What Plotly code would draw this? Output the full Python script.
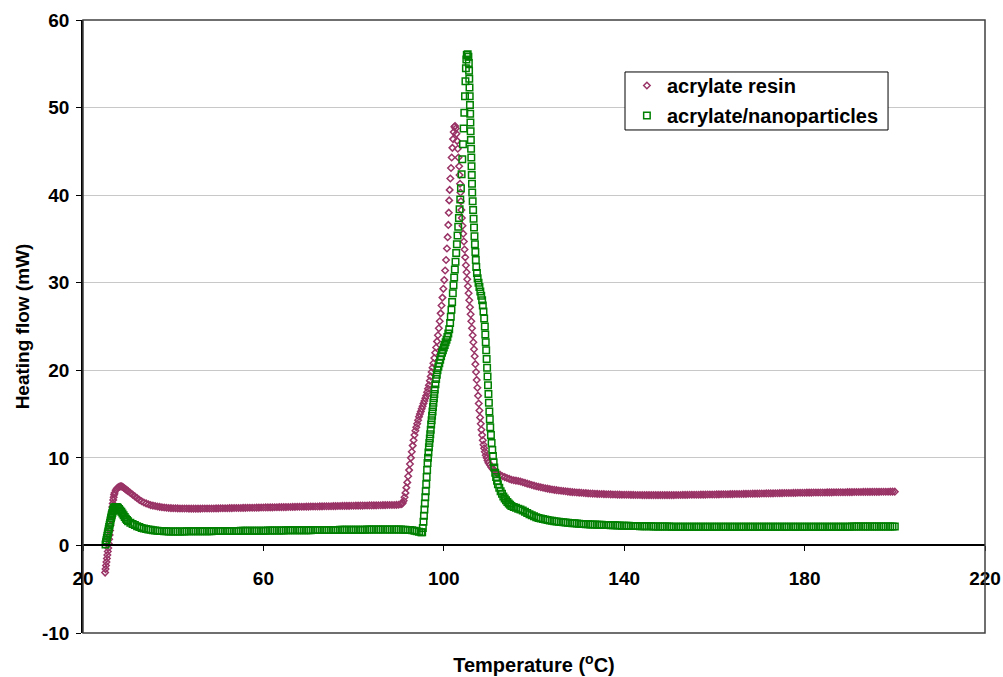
import plotly.graph_objects as go

# ---------------- data ----------------
# acrylate resin: onset (explicit temperature / heat-flow pairs)
resin_onset = [(24.9, -3.1), (25.0, -2.7), (25.1, -2.3), (25.2, -1.9), (25.3, -1.5), (25.4, -1.1),
               (25.5, -0.7), (25.6, -0.3), (25.7, 0.2), (25.8, 0.7), (25.9, 1.2), (26.0, 1.7),
               (26.1, 2.3), (26.2, 2.9), (26.3, 3.4), (26.4, 3.9), (26.5, 4.4), (26.6, 4.8),
               (26.7, 5.2), (26.8, 5.5), (26.9, 5.8), (27.0, 6.0), (27.25, 6.3), (27.5, 6.5),
               (27.75, 6.6), (28.0, 6.7), (28.25, 6.75), (28.5, 6.75), (28.75, 6.7), (29.0, 6.6),
               (29.25, 6.5), (29.5, 6.4), (29.75, 6.3), (30.0, 6.2)]
# acrylate resin: baseline sampled every 0.5 C from 30.5 C
resin_base_start = 30.5
resin_base = [6.0, 5.8, 5.6, 5.4, 5.2, 5.05, 4.9, 4.8, 4.7, 4.6,
              4.55, 4.5, 4.45, 4.4, 4.36, 4.33, 4.3, 4.28, 4.26, 4.25,
              4.24, 4.23, 4.22, 4.22, 4.21, 4.21, 4.2, 4.2, 4.2, 4.2,
              4.2, 4.2, 4.21, 4.21, 4.21, 4.22, 4.22, 4.22, 4.23, 4.23,
              4.24, 4.24, 4.25, 4.25, 4.26, 4.26, 4.27, 4.27, 4.28, 4.28,
              4.29, 4.29, 4.3, 4.3, 4.31, 4.31, 4.32, 4.32, 4.33, 4.33,
              4.34, 4.34, 4.35, 4.35, 4.36, 4.36, 4.37, 4.37, 4.38, 4.38,
              4.39, 4.39, 4.4, 4.4, 4.41, 4.41, 4.42, 4.42, 4.43, 4.43,
              4.44, 4.44, 4.45, 4.45, 4.46, 4.46, 4.47, 4.47, 4.48, 4.48,
              4.49, 4.49, 4.5, 4.5, 4.51, 4.51, 4.52, 4.52, 4.53, 4.53,
              4.54, 4.54, 4.55, 4.55, 4.56, 4.56, 4.57, 4.57, 4.58, 4.58,
              4.59, 4.59, 4.6, 4.6, 4.61, 4.61, 4.62, 4.62, 4.63, 4.64]
# acrylate resin: exotherm (explicit pairs)
resin_peak = [(90.5, 4.7), (90.7, 4.75), (90.9, 4.85), (91.1, 5.1), (91.3, 5.5), (91.5, 6.0),
              (91.7, 6.6), (91.9, 7.2), (92.1, 7.9), (92.3, 8.6), (92.5, 9.3), (92.7, 10.0),
              (92.9, 10.7), (93.1, 11.4), (93.3, 12.0), (93.5, 12.6), (93.7, 13.1), (93.9, 13.5),
              (94.1, 13.9), (94.3, 14.3), (94.5, 14.7), (94.7, 15.0), (94.9, 15.3), (95.1, 15.6),
              (95.3, 15.9), (95.5, 16.2), (95.7, 16.5), (95.9, 16.8), (96.1, 17.1), (96.3, 17.5),
              (96.5, 17.9), (96.7, 18.3), (96.9, 18.8), (97.1, 19.3), (97.3, 19.8), (97.5, 20.3),
              (97.7, 20.8), (97.9, 21.4), (98.1, 22.0), (98.3, 22.6), (98.5, 23.3), (98.7, 24.0),
              (98.9, 24.8), (99.1, 25.6), (99.3, 26.5), (99.5, 27.4), (99.7, 28.3), (99.9, 29.3),
              (100.1, 30.3), (100.3, 31.4), (100.5, 32.6), (100.7, 33.9), (100.85, 35.2),
              (101.0, 36.6), (101.1, 38.0), (101.2, 39.4), (101.3, 40.6), (101.45, 41.9),
              (101.6, 43.1), (101.75, 44.3), (101.9, 45.4), (102.05, 46.4), (102.2, 47.2),
              (102.35, 47.8), (102.5, 47.9), (102.65, 47.6), (102.8, 47.0), (102.95, 46.2),
              (103.1, 45.3), (103.25, 44.3), (103.4, 43.3), (103.5, 42.3), (103.6, 41.3),
              (103.7, 40.3), (103.8, 39.3), (103.9, 38.3), (104.0, 37.4), (104.15, 36.5),
              (104.3, 35.6), (104.45, 34.7), (104.6, 33.8), (104.75, 32.9), (104.9, 32.0),
              (105.05, 31.2), (105.2, 30.4), (105.35, 29.6), (105.5, 28.8), (105.65, 28.0),
              (105.8, 27.2), (105.95, 26.4), (106.1, 25.6), (106.25, 24.8), (106.4, 24.0),
              (106.55, 23.2), (106.7, 22.4), (106.85, 21.6), (107.0, 20.7), (107.15, 19.8),
              (107.3, 18.9), (107.45, 18.0), (107.6, 17.1), (107.75, 16.2), (107.9, 15.4),
              (108.05, 14.6), (108.2, 13.9), (108.35, 13.2), (108.5, 12.6), (108.65, 12.0),
              (108.8, 11.5), (108.95, 11.1), (109.1, 10.7), (109.3, 10.3), (109.5, 10.0),
              (109.7, 9.7), (109.9, 9.45), (110.2, 9.2), (110.5, 8.95), (110.8, 8.75),
              (111.1, 8.6), (111.4, 8.45), (111.7, 8.3), (112.0, 8.2), (112.5, 8.05),
              (113.0, 7.9), (113.5, 7.8), (114.0, 7.7), (114.5, 7.6), (115.0, 7.5)]
# acrylate resin: tail sampled every 0.5 C from 115.5 C
resin_tail_start = 115.5
resin_tail = [7.45, 7.4, 7.35, 7.3, 7.22, 7.14, 7.06, 6.98, 6.9, 6.83,
              6.76, 6.7, 6.64, 6.58, 6.53, 6.48, 6.43, 6.39, 6.35, 6.31,
              6.27, 6.24, 6.21, 6.18, 6.15, 6.12, 6.09, 6.07, 6.05, 6.03,
              6.01, 5.99, 5.97, 5.95, 5.93, 5.92, 5.9, 5.89, 5.88, 5.87,
              5.86, 5.85, 5.84, 5.83, 5.82, 5.81, 5.8, 5.8, 5.79, 5.79,
              5.78, 5.78, 5.77, 5.77, 5.76, 5.76, 5.76, 5.75, 5.75, 5.75,
              5.75, 5.75, 5.75, 5.75, 5.75, 5.75, 5.75, 5.75, 5.75, 5.75,
              5.75, 5.75, 5.76, 5.76, 5.76, 5.77, 5.77, 5.77, 5.78, 5.78,
              5.78, 5.79, 5.79, 5.8, 5.8, 5.8, 5.81, 5.81, 5.82, 5.82,
              5.83, 5.83, 5.84, 5.84, 5.85, 5.85, 5.86, 5.86, 5.87, 5.87,
              5.88, 5.88, 5.89, 5.89, 5.9, 5.9, 5.91, 5.91, 5.92, 5.92,
              5.93, 5.93, 5.94, 5.94, 5.95, 5.95, 5.96, 5.96, 5.97, 5.97,
              5.98, 5.98, 5.99, 5.99, 6.0, 6.0, 6.01, 6.01, 6.02, 6.02,
              6.03, 6.03, 6.03, 6.04, 6.04, 6.04, 6.05, 6.05, 6.05, 6.06,
              6.06, 6.06, 6.07, 6.07, 6.07, 6.08, 6.08, 6.08, 6.09, 6.09,
              6.09, 6.1, 6.1, 6.1, 6.1, 6.11, 6.11, 6.11, 6.11, 6.12,
              6.12, 6.12, 6.12, 6.13, 6.13, 6.13, 6.13, 6.14, 6.14, 6.14]

# acrylate/nanoparticles: onset (explicit pairs)
nano_onset = [(25.0, 0.1), (25.1, 0.35), (25.2, 0.6), (25.3, 0.85), (25.4, 1.1), (25.5, 1.35),
              (25.6, 1.6), (25.7, 1.85), (25.8, 2.1), (25.9, 2.35), (26.0, 2.6), (26.1, 2.85),
              (26.2, 3.1), (26.3, 3.3), (26.4, 3.5), (26.5, 3.7), (26.6, 3.9), (26.7, 4.05),
              (26.8, 4.2), (26.9, 4.3), (27.0, 4.35), (27.25, 4.4), (27.5, 4.4), (27.75, 4.3),
              (28.0, 4.15), (28.25, 4.0), (28.5, 3.85), (28.75, 3.65), (29.0, 3.45),
              (29.25, 3.25), (29.5, 3.05), (29.75, 2.9), (30.0, 2.75)]
# acrylate/nanoparticles: baseline sampled every 0.5 C from 30.5 C
nano_base_start = 30.5
nano_base = [2.6, 2.45, 2.32, 2.2, 2.1, 2.0, 1.93, 1.87, 1.82, 1.78,
             1.74, 1.71, 1.68, 1.66, 1.64, 1.62, 1.61, 1.6, 1.6, 1.6,
             1.6, 1.6, 1.6, 1.6, 1.6, 1.61, 1.61, 1.61, 1.61, 1.62,
             1.62, 1.62, 1.62, 1.63, 1.63, 1.63, 1.63, 1.64, 1.64, 1.64,
             1.64, 1.65, 1.65, 1.65, 1.65, 1.66, 1.66, 1.66, 1.66, 1.67,
             1.67, 1.67, 1.67, 1.68, 1.68, 1.68, 1.68, 1.69, 1.69, 1.69,
             1.69, 1.7, 1.7, 1.7, 1.7, 1.71, 1.71, 1.71, 1.71, 1.72,
             1.72, 1.72, 1.72, 1.73, 1.73, 1.73, 1.73, 1.74, 1.74, 1.74,
             1.74, 1.75, 1.75, 1.75, 1.75, 1.76, 1.76, 1.76, 1.76, 1.77,
             1.77, 1.77, 1.77, 1.78, 1.78, 1.78, 1.78, 1.79, 1.79, 1.79,
             1.79, 1.8, 1.8, 1.8, 1.8, 1.81, 1.81, 1.81, 1.81, 1.82,
             1.82, 1.82, 1.82, 1.83, 1.83, 1.83, 1.83, 1.83, 1.82, 1.82,
             1.81, 1.8, 1.79, 1.77, 1.75, 1.72, 1.68, 1.63, 1.56, 1.5]
# acrylate/nanoparticles: exotherm (explicit pairs)
nano_peak = [(95.2, 1.5), (95.35, 2.0), (95.5, 2.7), (95.6, 3.4), (95.7, 4.1), (95.8, 4.8),
             (95.9, 5.5), (96.0, 6.2), (96.1, 7.0), (96.2, 7.8), (96.3, 8.6), (96.4, 9.4),
             (96.5, 10.0), (96.6, 10.6), (96.7, 11.2), (96.8, 11.7), (96.9, 12.2), (97.0, 12.7),
             (97.1, 13.2), (97.2, 13.8), (97.3, 14.3), (97.4, 14.8), (97.5, 15.3), (97.6, 15.8),
             (97.7, 16.3), (97.8, 16.8), (97.9, 17.3), (98.0, 17.8), (98.15, 18.4), (98.3, 19.0),
             (98.45, 19.5), (98.6, 20.0), (98.8, 20.4), (99.0, 20.8), (99.2, 21.2), (99.4, 21.6),
             (99.6, 22.0), (99.8, 22.3), (100.0, 22.6), (100.2, 22.9), (100.4, 23.2),
             (100.6, 23.5), (100.8, 23.8), (101.0, 24.2), (101.2, 24.7), (101.4, 25.4),
             (101.55, 26.1), (101.7, 26.9), (101.85, 27.8), (102.0, 28.8), (102.15, 29.7),
             (102.3, 30.6), (102.45, 31.5), (102.6, 32.4), (102.75, 33.4), (102.9, 34.4),
             (103.05, 35.4), (103.2, 36.4), (103.35, 37.4), (103.5, 38.4), (103.65, 39.5),
             (103.8, 40.8), (103.95, 42.4), (104.1, 44.1), (104.25, 45.8), (104.4, 47.6),
             (104.55, 49.4), (104.7, 51.3), (104.8, 53.0), (104.9, 54.5), (105.0, 55.5),
             (105.1, 56.0), (105.3, 56.1), (105.45, 55.8), (105.55, 55.1), (105.6, 54.2),
             (105.65, 53.3), (105.7, 52.3), (105.75, 51.3), (105.8, 50.3), (105.85, 49.3),
             (105.9, 48.3), (105.95, 47.3), (106.0, 46.3), (106.05, 45.3), (106.1, 44.3),
             (106.15, 43.3), (106.2, 42.3), (106.25, 41.3), (106.3, 40.3), (106.4, 39.3),
             (106.5, 38.3), (106.6, 37.3), (106.7, 36.3), (106.8, 35.3), (106.9, 34.4),
             (107.0, 33.5), (107.1, 32.6), (107.2, 31.8), (107.35, 31.1), (107.5, 30.5),
             (107.7, 30.0), (107.9, 29.5), (108.1, 29.0), (108.3, 28.5), (108.5, 28.0),
             (108.65, 27.4), (108.8, 26.7), (108.95, 25.9), (109.1, 25.0), (109.2, 24.1),
             (109.3, 23.2), (109.4, 22.3), (109.5, 21.3), (109.6, 20.3), (109.7, 19.3),
             (109.8, 18.3), (109.9, 17.3), (110.0, 16.3), (110.1, 15.3), (110.2, 14.4),
             (110.3, 13.5), (110.45, 12.6), (110.6, 11.7), (110.75, 10.9), (110.9, 10.2),
             (111.05, 9.5), (111.2, 8.9), (111.4, 8.3), (111.6, 7.8), (111.8, 7.4),
             (112.0, 7.0), (112.3, 6.6), (112.6, 6.2), (112.9, 5.9), (113.2, 5.6),
             (113.5, 5.35), (113.8, 5.15), (114.1, 4.95), (114.4, 4.8), (114.7, 4.65),
             (115.0, 4.5)]
# acrylate/nanoparticles: tail sampled every 0.5 C from 115.5 C
nano_tail_start = 115.5
nano_tail = [4.4, 4.3, 4.2, 4.1, 4.0, 3.85, 3.7, 3.57, 3.45, 3.33,
             3.22, 3.14, 3.07, 3.01, 2.95, 2.9, 2.85, 2.81, 2.77, 2.73,
             2.7, 2.67, 2.64, 2.61, 2.59, 2.56, 2.54, 2.52, 2.5, 2.48,
             2.46, 2.45, 2.43, 2.42, 2.4, 2.39, 2.38, 2.37, 2.36, 2.35,
             2.34, 2.33, 2.32, 2.31, 2.3, 2.29, 2.28, 2.27, 2.26, 2.25,
             2.24, 2.24, 2.23, 2.22, 2.22, 2.21, 2.2, 2.2, 2.19, 2.19,
             2.18, 2.18, 2.17, 2.17, 2.16, 2.16, 2.16, 2.15, 2.15, 2.15,
             2.14, 2.14, 2.14, 2.14, 2.14, 2.13, 2.13, 2.13, 2.13, 2.13,
             2.13, 2.13, 2.13, 2.13, 2.12, 2.12, 2.12, 2.12, 2.12, 2.12,
             2.12, 2.12, 2.12, 2.12, 2.12, 2.12, 2.12, 2.12, 2.12, 2.12,
             2.12, 2.12, 2.12, 2.12, 2.12, 2.12, 2.12, 2.12, 2.12, 2.12,
             2.12, 2.12, 2.12, 2.12, 2.12, 2.13, 2.13, 2.13, 2.13, 2.13,
             2.13, 2.13, 2.13, 2.13, 2.13, 2.13, 2.13, 2.13, 2.13, 2.13,
             2.13, 2.13, 2.14, 2.14, 2.14, 2.14, 2.14, 2.14, 2.14, 2.14,
             2.14, 2.14, 2.14, 2.14, 2.14, 2.14, 2.14, 2.14, 2.14, 2.14,
             2.15, 2.15, 2.15, 2.15, 2.15, 2.15, 2.15, 2.15, 2.15, 2.15,
             2.15, 2.15, 2.15, 2.15, 2.15, 2.15, 2.15, 2.15, 2.15, 2.15]

series_names = ["acrylate resin", "acrylate/nanoparticles"]
x_ticks = [20, 60, 100, 140, 180, 220]
y_ticks = [-10, 0, 10, 20, 30, 40, 50, 60]
SAMPLE_STEP = 0.5


def assemble(onset, base_start, base, peak, tail_start, tail):
    t = [p[0] for p in onset]
    v = [p[1] for p in onset]
    t += [round(base_start + SAMPLE_STEP * i, 2) for i in range(len(base))]
    v += list(base)
    t += [p[0] for p in peak]
    v += [p[1] for p in peak]
    t += [round(tail_start + SAMPLE_STEP * i, 2) for i in range(len(tail))]
    v += list(tail)
    return t, v


resin_T, resin_V = assemble(resin_onset, resin_base_start, resin_base, resin_peak,
                            resin_tail_start, resin_tail)
nano_T, nano_V = assemble(nano_onset, nano_base_start, nano_base, nano_peak,
                          nano_tail_start, nano_tail)

FONT = "Liberation Sans, Arial, sans-serif"
PURPLE = "#993366"
GREEN = "#008000"

fig = go.Figure()
fig.add_trace(go.Scatter(
    x=resin_T, y=resin_V, mode="markers", name=series_names[0], legendgroup="a",
    marker=dict(symbol="diamond-open", size=5, color=PURPLE, line=dict(width=1.5, color=PURPLE)),
))
fig.add_trace(go.Scatter(
    x=nano_T, y=nano_V, mode="markers", name=series_names[1], legendgroup="b",
    marker=dict(symbol="square-open", size=6.5, color=GREEN, line=dict(width=1.5, color=GREEN)),
))

y_min, y_max = y_ticks[0], y_ticks[-1]
tick_font = dict(family=FONT, size=19, color="black", weight="bold")
fig.update_layout(
    width=1003, height=677,
    margin=dict(l=83, r=18, t=20, b=44, autoexpand=False),
    paper_bgcolor="white", plot_bgcolor="white",
    font=dict(family=FONT, size=19, color="black", weight="bold"),
    showlegend=True,
    legend=dict(x=0.603, y=0.925, xanchor="left", yanchor="top",
                bgcolor="rgba(0,0,0,0)", borderwidth=0,
                font=dict(family=FONT, size=20, color="black", weight="bold"),
                tracegroupgap=1),
    xaxis=dict(range=[x_ticks[0], x_ticks[-1]], tickvals=x_ticks,
               ticktext=[str(t) for t in x_ticks],
               ticks="outside", ticklen=5, tickcolor="black", tickwidth=1,
               showline=True, linecolor="black", linewidth=1.5,
               showgrid=False, zeroline=False, automargin=False,
               anchor="free", position=(0 - y_min) / (y_max - y_min),
               ticklabelstandoff=11,
               tickfont=tick_font,
               title=dict(text="Temperature (<sup>o</sup>C)", standoff=69,
                          font=dict(family=FONT, size=20, color="black", weight="bold"))),
    yaxis=dict(range=[y_min, y_max], tickvals=y_ticks,
               ticktext=[str(t) for t in y_ticks],
               ticks="outside", ticklen=5, tickcolor="black", tickwidth=1,
               showline=True, linecolor="black", linewidth=1.5,
               showgrid=True, gridcolor="#c8c8c8", gridwidth=1, zeroline=False,
               automargin=False, ticklabelstandoff=3,
               tickfont=tick_font,
               title=dict(text="Heating flow (mW)", standoff=7,
                          font=dict(family=FONT, size=19, color="black", weight="bold"))),
    shapes=[
        # plot-area frame
        dict(type="rect", xref="paper", yref="paper", x0=0, x1=1, y0=0, y1=1,
             line=dict(color="#404040", width=1.5), layer="above"),
        # legend box
        dict(type="rect", xref="paper", yref="paper", x0=0.6009, x1=0.8925, y0=0.8206, y1=0.9152,
             line=dict(color="black", width=1), fillcolor="white", layer="above"),
    ],
)

fig.write_html("out.html")
